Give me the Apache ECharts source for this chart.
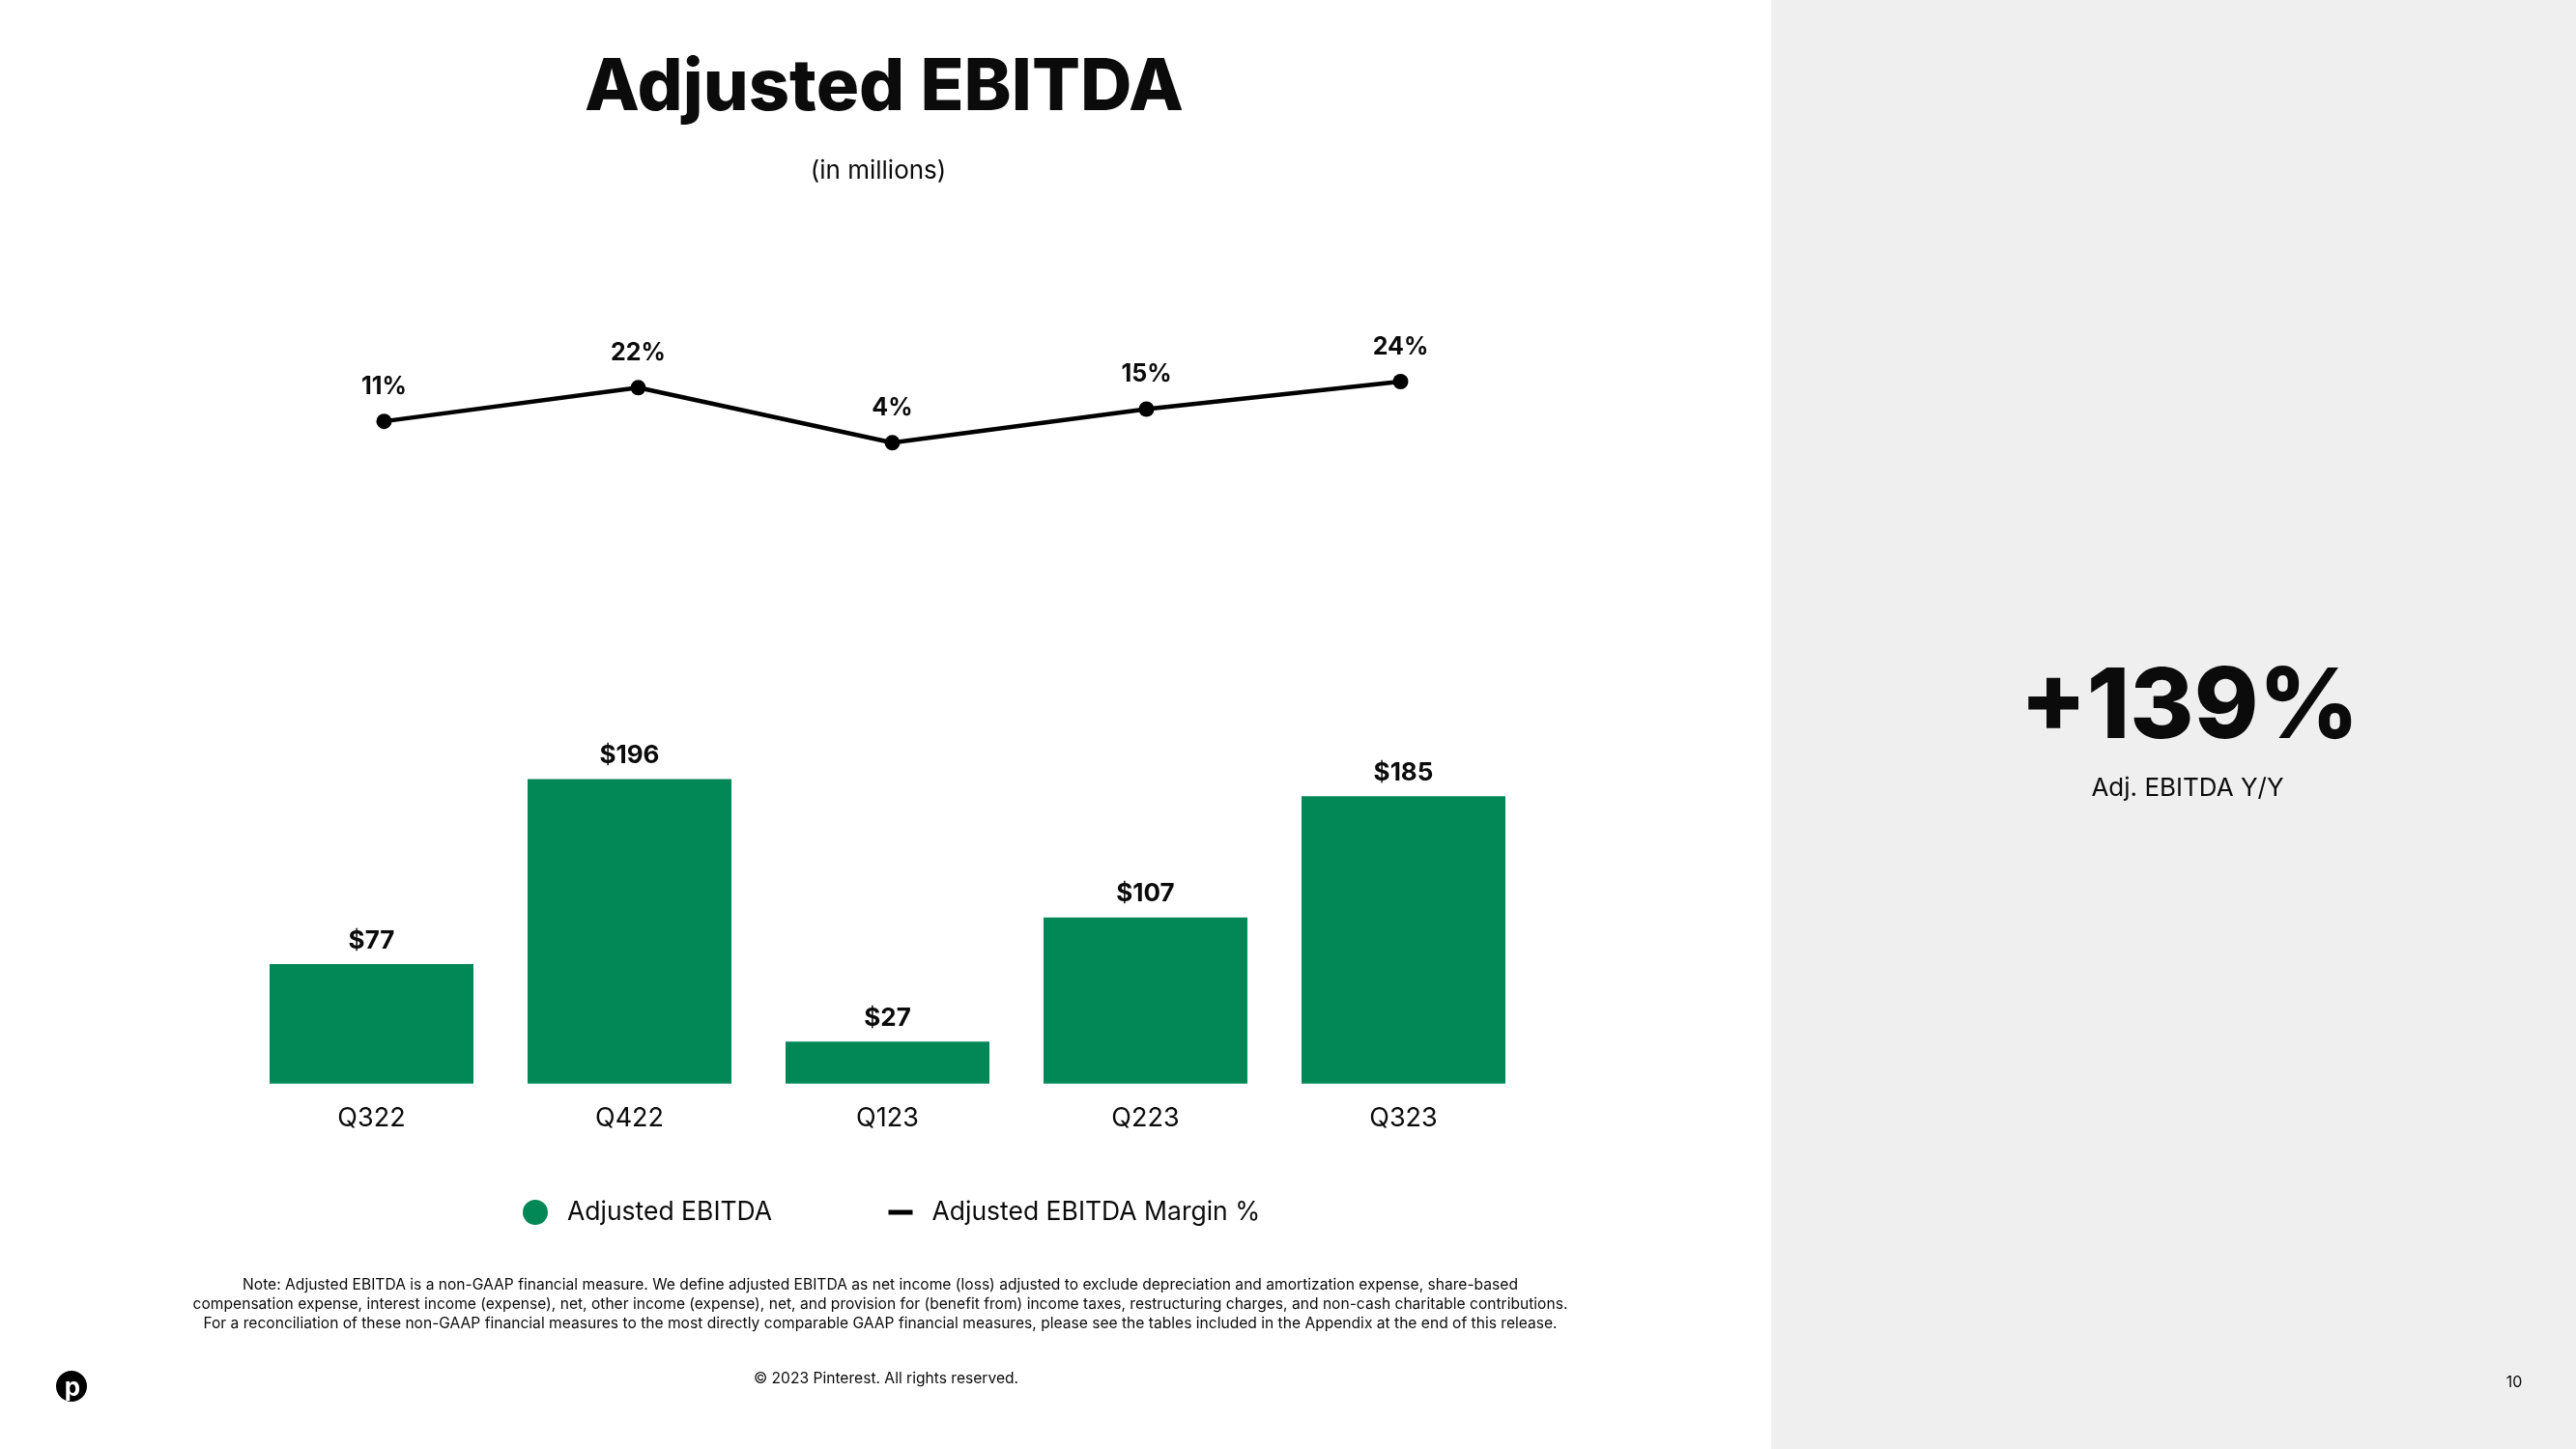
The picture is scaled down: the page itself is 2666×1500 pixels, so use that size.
<!DOCTYPE html>
<html>
<head>
<meta charset="utf-8">
<script src="https://cdn.jsdelivr.net/npm/echarts@6/dist/echarts.min.js"></script>
<style>
html,body{margin:0;padding:0;background:#fff;}
#chart{width:2666px;height:1500px;}
</style>
</head>
<body>
<div id="chart"></div>
<script>
// ---- data ----
const categories = ['Q322', 'Q422', 'Q123', 'Q223', 'Q323'];
const ebitdaValues = [77, 196, 27, 107, 185];
const marginValues = [11, 22, 4, 15, 24];
const barSeriesName = 'Adjusted EBITDA';
const lineSeriesName = 'Adjusted EBITDA Margin %';
const titleText = 'Adjusted EBITDA';
const subtitleText = '(in millions)';
const kpiValue = '+139%';
const kpiLabel = 'Adj. EBITDA Y/Y';
const noteLines = [
  'Note: Adjusted EBITDA is a non-GAAP financial measure. We define adjusted EBITDA as net income (loss) adjusted to exclude depreciation and amortization expense, share-based',
  'compensation expense, interest income (expense), net, other income (expense), net, and provision for (benefit from) income taxes, restructuring charges, and non-cash charitable contributions.',
  'For a reconciliation of these non-GAAP financial measures to the most directly comparable GAAP financial measures, please see the tables included in the Appendix at the end of this release.'
];
const copyrightText = '\u00A9 2023 Pinterest. All rights reserved.';
const pageNumber = '10';

// ---- styles ----
const FONT = 'Inter';
const INK = '#0b0b0b';
const GREEN = '#028856';

const chart = echarts.init(document.getElementById('chart'), null, {renderer: 'canvas'});

const graphics = [
  {type: 'rect', shape: {x: 1833, y: 0, width: 833, height: 1500}, style: {fill: '#efefef'}, z: -10},
  {type: 'text', x: 2266, y: 734, style: {text: kpiValue, font: '800 101px Inter', fill: INK, textAlign: 'center', textVerticalAlign: 'middle'}},
  {type: 'text', x: 2264, y: 816, style: {text: kpiLabel, font: '400 26px Inter', fill: INK, textAlign: 'center', textVerticalAlign: 'middle'}},
  {type: 'text', x: 2602, y: 1431, style: {text: pageNumber, font: '400 16px Inter', fill: INK, textAlign: 'center', textVerticalAlign: 'middle'}},
  {type: 'text', x: 917, y: 1427, style: {text: copyrightText, font: '400 15.6px Inter', fill: INK, textAlign: 'center', textVerticalAlign: 'middle'}},
  {type: 'circle', shape: {cx: 74, cy: 1435, r: 16}, style: {fill: '#000'}},
  {type: 'text', x: 75, y: 1437, style: {text: 'p', font: '700 26px Inter', fill: '#fff', textAlign: 'center', textVerticalAlign: 'middle'}}
];
noteLines.forEach(function (line, i) {
  graphics.push({type: 'text', x: 911, y: 1330 + i * 20.4, style: {text: line, font: '400 15.6px Inter', fill: INK, textAlign: 'center', textVerticalAlign: 'middle'}});
});

const option = {
  backgroundColor: '#ffffff',
  animation: false,
  textStyle: {fontFamily: FONT},
  title: [
    {text: titleText, left: 915, top: 55, textAlign: 'center', padding: 0,
     textStyle: {fontFamily: FONT, fontSize: 74, fontWeight: 800, color: INK, lineHeight: 74}},
    {text: subtitleText, left: 909, top: 164, textAlign: 'center', padding: 0,
     textStyle: {fontFamily: FONT, fontSize: 26, fontWeight: 400, color: INK, lineHeight: 26}}
  ],
  legend: [
    {data: [{name: barSeriesName, icon: 'circle'}], left: 541, top: 1241.5, padding: 0,
     itemWidth: 26, itemHeight: 26, selectedMode: false,
     textStyle: {fontFamily: FONT, fontSize: 26.5, color: INK, lineHeight: 27, padding: [0, 0, 0, 15]}},
    {data: [{name: lineSeriesName, icon: 'rect'}], left: 919.5, top: 1241.5, padding: 0,
     itemWidth: 25, itemHeight: 5, selectedMode: false, itemStyle: {color: '#000'},
     textStyle: {fontFamily: FONT, fontSize: 26.5, color: INK, lineHeight: 27, padding: [0, 0, 0, 15]}}
  ],
  grid: [
    {left: 251, width: 1335, top: 800, height: 321.8},
    {left: 266, width: 1315, top: 376, height: 94.95}
  ],
  xAxis: [
    {type: 'category', gridIndex: 0, data: categories,
     axisLine: {show: false}, axisTick: {show: false},
     axisLabel: {fontFamily: FONT, fontSize: 27, color: INK, margin: 23, lineHeight: 27}},
    {type: 'category', gridIndex: 1, data: categories, show: false}
  ],
  yAxis: [
    {type: 'value', gridIndex: 0, min: 0, max: 200, show: false, splitLine: {show: false}},
    {type: 'value', gridIndex: 1, min: 0, max: 30, show: false, splitLine: {show: false}}
  ],
  series: [
    {name: barSeriesName, type: 'bar', xAxisIndex: 0, yAxisIndex: 0,
     data: ebitdaValues, barWidth: 211, itemStyle: {color: GREEN},
     label: {show: true, position: 'top', distance: 11,
             formatter: function (p) { return '$' + p.value; },
             fontFamily: FONT, fontSize: 26, fontWeight: 700, color: INK, lineHeight: 26}},
    {name: lineSeriesName, type: 'line', xAxisIndex: 1, yAxisIndex: 1,
     data: marginValues, symbol: 'circle', symbolSize: 16,
     itemStyle: {color: '#000'}, lineStyle: {color: '#000', width: 4.5},
     label: {show: true, position: 'top', distance: 15,
             formatter: function (p) { return p.value + '%'; },
             fontFamily: FONT, fontSize: 25, fontWeight: 700, color: INK, lineHeight: 25}}
  ],
  graphic: graphics
};
chart.setOption(option);
</script>
</body>
</html>
